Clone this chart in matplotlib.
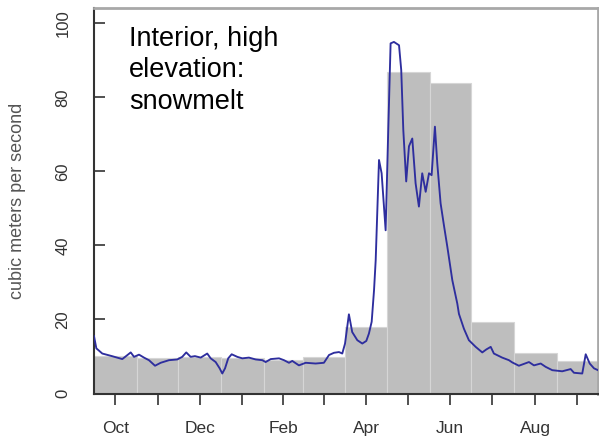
import matplotlib
matplotlib.use('Agg')
import matplotlib.pyplot as plt
import numpy as np

plt.rcParams['font.family'] = ['Liberation Sans', 'DejaVu Sans']

# water year months, Oct..Sep
months = ['Oct', 'Nov', 'Dec', 'Jan', 'Feb', 'Mar', 'Apr', 'May', 'Jun', 'Jul', 'Aug', 'Sep']
month_days = [31, 30, 31, 31, 28, 31, 30, 31, 30, 31, 31, 30]
# monthly mean flow (bars)
monthly_mean = [10.0, 9.6, 9.8, 9.5, 9.0, 9.9, 18.0, 86.9, 83.8, 19.2, 11.0, 8.9]

# daily flow: day of water year, flow
flow_day = [0, 1.7, 6, 13, 20.5, 26.6, 29, 32.6, 36.2, 39.8, 44.2, 48.3, 54.3, 60.3,
            63.9, 66.8, 70, 73.1, 77.3, 82, 84.5, 88.1, 91, 92.9, 94.9, 97.2, 99.7,
            103.8, 107.4, 112.2, 117.1, 121.9, 124.3, 128, 134, 137.6, 141.2, 143.6,
            148.4, 153.3, 160.5, 166.5, 170.2, 173.8, 177.4, 179.8, 181.8, 184.6, 187,
            190.7, 194.3, 197.2, 199.1, 201.1, 202.8, 204, 206.4, 208.3, 211.2, 213.1,
            214.8, 217.2, 220.9, 222.5, 224, 226.1, 228.1, 230.5, 232.9, 235.3, 237.7,
            240.2, 242.6, 244.5, 246.9, 248.6, 251, 253.4, 255.9, 259.5, 263.1, 264.3,
            267.9, 271.5, 276.4, 281.2, 284.1, 287.3, 289.6, 295.6, 300.5, 302.9, 307.7,
            315, 318.6, 323.5, 327.1, 331.9, 339.1, 345.2, 347.6, 353.6, 356.1, 359,
            362.1, 365]
flow_val = [15.5, 12.2, 10.8, 10.1, 9.3, 11.1, 9.9, 10.5, 9.7, 9.0, 7.5, 8.3, 9.0, 9.2,
            9.9, 11.1, 9.9, 10.1, 9.7, 10.8, 9.5, 8.5, 6.8, 5.4, 6.8, 9.5, 10.6,
            9.9, 9.5, 9.7, 9.2, 9.0, 8.5, 9.3, 9.5, 9.0, 8.3, 8.8,
            7.6, 8.3, 8.1, 8.3, 10.4, 11.0, 11.2, 10.8, 13.5, 21.4, 16.6,
            14.4, 13.5, 14.2, 16.2, 19.4, 27.9, 36.0, 63.1, 59.5, 44.1, 71.2,
            94.6, 95.0, 94.1, 87.4, 71.2, 57.3, 66.8, 68.9, 56.8, 50.5, 59.5,
            54.5, 59.5, 59.0, 72.1, 62.2, 51.4, 45.5, 39.6, 30.6, 24.3, 21.5,
            17.5, 14.4, 12.6, 11.1, 11.9, 12.6, 10.8, 9.7, 9.0, 8.4, 7.5,
            8.5, 7.6, 8.1, 7.2, 6.3, 6.0, 6.6, 5.6, 5.4, 10.6, 8.1,
            6.8, 6.3]

starts = np.concatenate([[0], np.cumsum(month_days)[:-1]])
mids = starts + np.array(month_days) / 2
tick_labels = [m if i % 2 == 0 else '' for i, m in enumerate(months)]

fig = plt.figure(figsize=(5.99, 4.42), dpi=100)
ax = fig.add_axes([94 / 599, 48.5 / 442, 504 / 599, 386 / 442])

ax.bar(starts, monthly_mean, width=month_days, align='edge',
       color='#bebebe', edgecolor='#d6d6d6', linewidth=0.8, zorder=1)
ax.plot(flow_day, flow_val, color='#2e2e9e', linewidth=1.35, zorder=3)

ax.set_xlim(0, 365)
ax.set_ylim(0, 104.3)

ax.set_xticks(mids)
ax.set_xticklabels(tick_labels)
ax.set_yticks([0, 20, 40, 60, 80, 100])
ax.tick_params(axis='x', direction='out', length=8, width=1.2, color='#333333',
               pad=12, labelsize=12.5, labelcolor='#333333')
ax.tick_params(axis='y', direction='in', length=8, width=1.2, color='#333333',
               pad=17, labelsize=12, labelcolor='#333333', labelrotation=90)
for lab in ax.get_yticklabels():
    lab.set_verticalalignment('center')

for side in ['left', 'bottom']:
    ax.spines[side].set_color('#333333')
    ax.spines[side].set_linewidth(1.5)
for side in ['top', 'right']:
    ax.spines[side].set_color('#a8a8a8')
    ax.spines[side].set_linewidth(2)

fig.text(17.5 / 599, 1 - 200.5 / 442, 'cubic meters per second', rotation=90,
         ha='center', va='center', fontsize=13, color='#555555')

ax.text(0.07, 0.953, 'Interior, high\nelevation:\nsnowmelt', transform=ax.transAxes,
        ha='left', va='top', fontsize=19.5, color='black', linespacing=1.28)

fig.savefig('out.png', dpi=100)
